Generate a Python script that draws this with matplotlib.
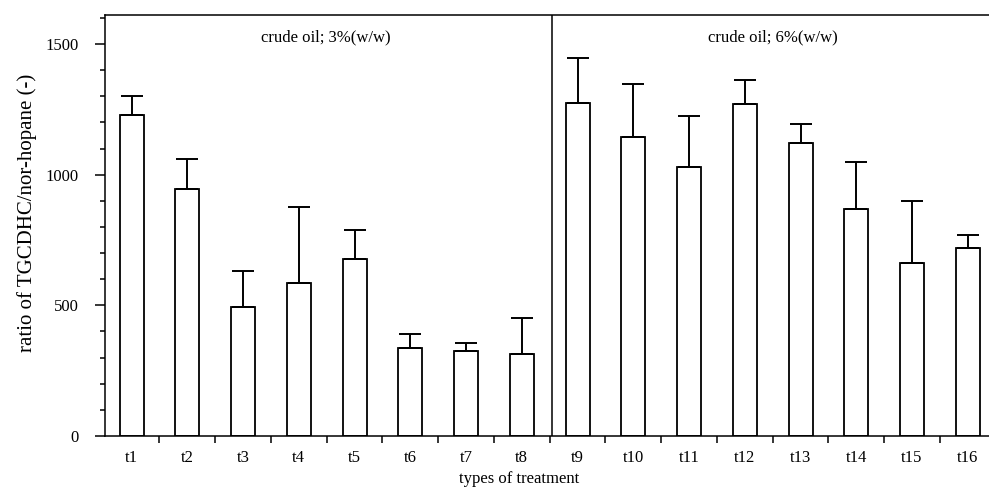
# Bar chart of TGCDHC / nor-hopane ratio per treatment, two crude oil levels
import matplotlib.pyplot as plt
import numpy as np
from matplotlib.ticker import MultipleLocator

plt.rcParams['font.family'] = ['Liberation Serif', 'DejaVu Serif']

treatments = ['t1', 't2', 't3', 't4', 't5', 't6', 't7', 't8',
              't9', 't10', 't11', 't12', 't13', 't14', 't15', 't16']
ratio = [1228, 945, 492, 584, 677, 337, 325, 314,
         1276, 1143, 1031, 1269, 1120, 868, 663, 719]
ratio_upper = [1301, 1060, 633, 876, 788, 390, 356, 453,
               1448, 1347, 1223, 1362, 1195, 1049, 898, 768]
group_labels = ['crude oil; 3%(w/w)', 'crude oil; 6%(w/w)']

x = np.arange(len(treatments))
err_up = np.array(ratio_upper) - np.array(ratio)
err_low = np.zeros(len(ratio))

fig = plt.figure(figsize=(9.89, 4.88), dpi=100)
ax = fig.add_axes([0.1062, 0.1066, 0.8938, 0.8627])

ax.bar(x, ratio, width=0.43, color='white', edgecolor='black', linewidth=1.3, zorder=2)
ax.errorbar(x, ratio, yerr=[err_low, err_up], fmt='none', ecolor='black',
            elinewidth=1.4, capsize=8, capthick=1.4, zorder=3)

# divider between the two oil levels
ax.axvline(7.54, color='black', linewidth=1.1)

ax.set_xlim(-0.475, 15.38)
ax.set_ylim(0, 1611)

ax.set_xticks(x)
ax.set_xticklabels(treatments, fontsize=12)
ax.tick_params(axis='x', which='major', length=0, pad=10)
ax.set_xticks(x[:-1] + 0.5, minor=True)
ax.tick_params(axis='x', which='minor', direction='out', length=5, width=1.1)

ax.yaxis.set_major_locator(MultipleLocator(500))
ax.yaxis.set_minor_locator(MultipleLocator(100))
ax.tick_params(axis='y', which='major', direction='out', length=7, width=1.1,
               labelsize=12, pad=12)
ax.tick_params(axis='y', which='minor', direction='out', length=3.5, width=1.1)

ax.spines['right'].set_visible(False)
for s in ['left', 'top', 'bottom']:
    ax.spines[s].set_linewidth(1.1)

ax.text(3.49, 1525, group_labels[0], ha='center', va='center', fontsize=12)
ax.text(11.5, 1525, group_labels[1], ha='center', va='center', fontsize=12)

ax.set_ylabel('ratio of TGCDHC/nor-hopane (-)', fontsize=15)
ax.yaxis.set_label_coords(-0.077, 0.53)
ax.set_xlabel('types of treatment', fontsize=12)
ax.xaxis.set_label_coords(0.468, -0.082)

fig.savefig('out.png', dpi=100)
